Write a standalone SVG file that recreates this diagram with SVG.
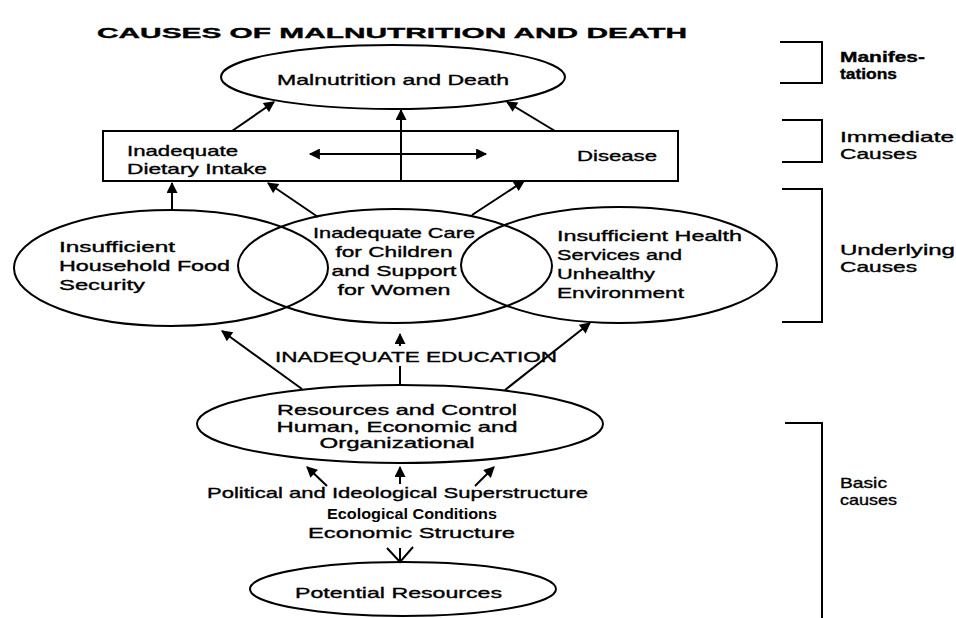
<svg xmlns="http://www.w3.org/2000/svg" width="956" height="618" viewBox="0 0 956 618">
<defs>
<marker id="ah" viewBox="0 0 10 10" refX="9" refY="5" markerUnits="userSpaceOnUse" markerWidth="13" markerHeight="11" orient="auto-start-reverse">
<path d="M0,0 L10,5 L0,10 z" fill="#000"/>
</marker>
<style>
.t{font-family:"Liberation Sans",Arial,sans-serif;font-size:15px;fill:#000;stroke:#000;stroke-width:0.35px}
.b{font-weight:bold}
.c{text-anchor:middle}
.s{fill:none;stroke:#000;stroke-width:2}
.a{fill:none;stroke:#000;stroke-width:2;marker-end:url(#ah)}
</style>
</defs>
<rect width="956" height="618" fill="#fff"/>
<text class="t b" x="97" y="38" font-size="24" textLength="590" lengthAdjust="spacingAndGlyphs">CAUSES OF MALNUTRITION AND DEATH</text>

<g id="malnutrition">
<ellipse class="s" cx="393" cy="77" rx="172" ry="32"/>
<text class="t c" x="393" y="85" textLength="232" lengthAdjust="spacingAndGlyphs">Malnutrition and Death</text>
</g>
<g id="immediate">
<rect class="s" x="103" y="131" width="575" height="50"/>
<text class="t" x="127" y="156" textLength="111" lengthAdjust="spacingAndGlyphs">Inadequate</text>
<text class="t" x="127" y="174" textLength="140" lengthAdjust="spacingAndGlyphs">Dietary Intake</text>
<text class="t" x="577" y="161" textLength="80" lengthAdjust="spacingAndGlyphs">Disease</text>
</g>
<g id="food">
<ellipse class="s" cx="171" cy="268" rx="157" ry="58"/>
<text class="t" x="59" y="252" textLength="116" lengthAdjust="spacingAndGlyphs">Insufficient</text>
<text class="t" x="59" y="271" textLength="171" lengthAdjust="spacingAndGlyphs">Household Food</text>
<text class="t" x="59" y="290" textLength="86" lengthAdjust="spacingAndGlyphs">Security</text>
</g>
<g id="care">
<ellipse class="s" cx="395" cy="266" rx="157" ry="57"/>
<text class="t c" x="394" y="238" textLength="162" lengthAdjust="spacingAndGlyphs">Inadequate Care</text>
<text class="t c" x="394" y="257" textLength="117" lengthAdjust="spacingAndGlyphs">for Children</text>
<text class="t c" x="394" y="276" textLength="125" lengthAdjust="spacingAndGlyphs">and Support</text>
<text class="t c" x="394" y="295" textLength="113" lengthAdjust="spacingAndGlyphs">for Women</text>
</g>
<g id="health">
<ellipse class="s" cx="619" cy="265" rx="158" ry="58"/>
<text class="t" x="557" y="241" textLength="185" lengthAdjust="spacingAndGlyphs">Insufficient Health</text>
<text class="t" x="557" y="260" textLength="125" lengthAdjust="spacingAndGlyphs">Services and</text>
<text class="t" x="557" y="279" textLength="98" lengthAdjust="spacingAndGlyphs">Unhealthy</text>
<text class="t" x="557" y="298" textLength="127" lengthAdjust="spacingAndGlyphs">Environment</text>
</g>
<g id="education">
<text class="t" x="275" y="362" font-size="16" textLength="282" lengthAdjust="spacingAndGlyphs">INADEQUATE EDUCATION</text>
</g>
<g id="resources">
<ellipse class="s" cx="400" cy="424" rx="203" ry="39"/>
<text class="t c" x="397" y="415" textLength="240" lengthAdjust="spacingAndGlyphs">Resources and Control</text>
<text class="t c" x="397" y="432" textLength="241" lengthAdjust="spacingAndGlyphs">Human, Economic and</text>
<text class="t c" x="397" y="448" textLength="155" lengthAdjust="spacingAndGlyphs">Organizational</text>
</g>
<g id="structure">
<text class="t" x="207" y="498" font-size="16" textLength="381" lengthAdjust="spacingAndGlyphs">Political and Ideological Superstructure</text>
<text class="t b" x="327" y="519" font-size="11" style="stroke-width:0" textLength="170" lengthAdjust="spacingAndGlyphs">Ecological Conditions</text>
<text class="t" x="308" y="538" font-size="16" textLength="207" lengthAdjust="spacingAndGlyphs">Economic Structure</text>
</g>
<g id="potential">
<ellipse class="s" cx="403" cy="589" rx="153" ry="27"/>
<text class="t" x="295" y="598" font-size="16" textLength="207" lengthAdjust="spacingAndGlyphs">Potential Resources</text>
</g>

<g id="connectors">
<line class="a" x1="232" y1="131" x2="274" y2="102"/>
<line class="a" x1="401" y1="181" x2="401" y2="110"/>
<line class="a" x1="555" y1="131" x2="507" y2="102"/>
<line class="a" x1="310" y1="154" x2="486" y2="154" style="marker-start:url(#ah)"/>
<line class="a" x1="172" y1="210" x2="172" y2="183"/>
<line class="a" x1="318" y1="217" x2="268" y2="183"/>
<line class="a" x1="472" y1="215" x2="524" y2="181"/>
<line class="a" x1="302" y1="389" x2="222" y2="331"/>
<line class="s" x1="400" y1="385" x2="400" y2="366"/>
<line class="a" x1="400" y1="346" x2="400" y2="334"/>
<line class="a" x1="505" y1="390" x2="590" y2="323"/>
<line class="a" x1="327" y1="486" x2="307" y2="467"/>
<line class="a" x1="400" y1="484" x2="400" y2="467"/>
<line class="a" x1="475" y1="486" x2="494" y2="467"/>
<line class="s" x1="400" y1="548" x2="400" y2="562"/>
<path class="s" d="M387,548 L400,562 L413,547"/>
</g>

<g id="levels">
<path class="s" d="M780,42 H822 V83 H780"/>
<text class="t b" x="840" y="62" textLength="85" lengthAdjust="spacingAndGlyphs">Manifes-</text>
<text class="t b" x="840" y="79" textLength="57" lengthAdjust="spacingAndGlyphs">tations</text>
<path class="s" d="M782,120 H822 V162 H782"/>
<text class="t" x="840" y="142" textLength="114" lengthAdjust="spacingAndGlyphs">Immediate</text>
<text class="t" x="840" y="159" textLength="77" lengthAdjust="spacingAndGlyphs">Causes</text>
<path class="s" d="M782,189 H822 V322 H782"/>
<text class="t" x="840" y="255" textLength="115" lengthAdjust="spacingAndGlyphs">Underlying</text>
<text class="t" x="840" y="272" textLength="77" lengthAdjust="spacingAndGlyphs">Causes</text>
<path class="s" d="M785,423 H822 V618"/>
<text class="t" x="840" y="488" textLength="47" lengthAdjust="spacingAndGlyphs">Basic</text>
<text class="t" x="840" y="505" textLength="57" lengthAdjust="spacingAndGlyphs">causes</text>
</g>
</svg>
